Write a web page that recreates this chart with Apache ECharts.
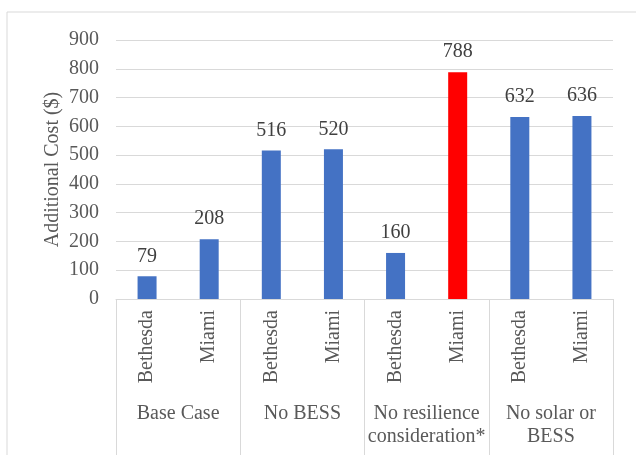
<!DOCTYPE html>
<html>
<head>
<meta charset="utf-8">
<script src="https://cdn.jsdelivr.net/npm/echarts@6/dist/echarts.min.js"></script>
<style>
    html, body { margin: 0; padding: 0; background: #fff; }
    #main { width: 636px; height: 455px; }
</style>
</head>
<body>
<div id="main"></div>
<script>
// data
var cities = ['Bethesda', 'Miami', 'Bethesda', 'Miami', 'Bethesda', 'Miami', 'Bethesda', 'Miami'];
var groups = ['Base Case', 'No BESS', 'No resilience\nconsideration*', 'No solar or\nBESS'];
var costs = [79, 208, 516, 520, 160, 788, 632, 636];
var yTicks = [0, 100, 200, 300, 400, 500, 600, 700, 800, 900];
var redBar = 5; // highlighted bar

var font = '"Liberation Serif", "Times New Roman", serif';
var textColor = '#595959';
var lineColor = '#d9d9d9';

var myChart = echarts.init(document.getElementById('main'));

var option = {
    animation: false,
    graphic: [{
        type: 'rect',
        shape: { x: 7, y: 12, width: 700, height: 500 },
        style: { fill: 'none', stroke: lineColor, lineWidth: 1 },
        silent: true
    }],
    grid: { left: 116, right: 23, top: 40, bottom: 156 },
    xAxis: [
        {
            type: 'category',
            data: cities,
            axisLine: { lineStyle: { color: lineColor, width: 1 } },
            axisTick: { show: false },
            axisLabel: {
                rotate: 90,
                margin: 11,
                color: textColor,
                fontFamily: font,
                fontSize: 20
            }
        },
        {
            type: 'category',
            position: 'bottom',
            data: groups,
            axisLine: { show: false },
            axisTick: {
                show: true,
                length: 160,
                lineStyle: { color: lineColor, width: 1 }
            },
            axisLabel: {
                margin: 103,
                interval: 0,
                color: textColor,
                fontFamily: font,
                fontSize: 20,
                lineHeight: 23
            }
        }
    ],
    yAxis: {
        type: 'value',
        min: yTicks[0],
        max: yTicks[yTicks.length - 1],
        interval: 100,
        name: 'Additional Cost ($)',
        nameLocation: 'middle',
        nameGap: 53,
        nameMoveOverlap: false,
        nameTextStyle: { color: textColor, fontFamily: font, fontSize: 20 },
        axisLine: { show: false },
        axisTick: { show: false },
        splitLine: { lineStyle: { color: lineColor, width: 1 } },
        axisLabel: {
            margin: 17,
            color: textColor,
            fontFamily: font,
            fontSize: 20
        }
    },
    series: [{
        type: 'bar',
        barWidth: 19,
        data: costs.map(function (v, i) {
            return {
                value: v,
                itemStyle: { color: i === redBar ? '#ff0000' : '#4472c4' }
            };
        }),
        label: {
            show: true,
            position: 'top',
            distance: 10,
            color: '#404040',
            fontFamily: font,
            fontSize: 20
        }
    }]
};

myChart.setOption(option);
</script>
</body>
</html>
